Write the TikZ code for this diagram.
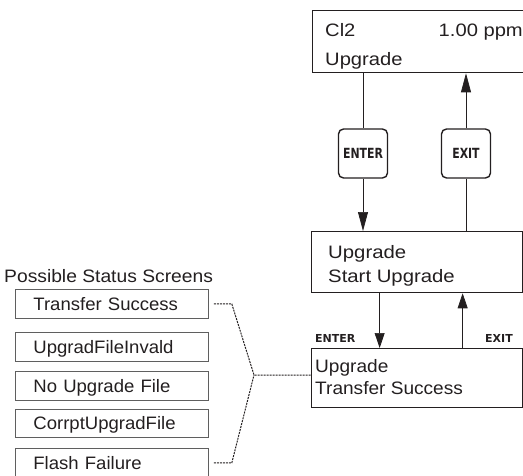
\documentclass[tikz,border=0pt]{standalone}
\usepackage{fontspec}
\usepackage{graphicx}
\setmainfont{Liberation Sans}
\newfontfamily\keyfont{DejaVu Sans}
\usetikzlibrary{arrows.meta,calc}
\definecolor{ink}{RGB}{35,31,32}
\definecolor{boxgray}{RGB}{95,95,95}
\newcommand{\hs}[2]{\scalebox{#1}[1]{#2}}
\tikzset{
  screen/.style={draw=ink, line width=1.3pt, inner sep=0pt, anchor=north west},
  lbl/.style={inner sep=0pt, text=ink, font=\fontsize{18}{20}\selectfont},
  keybox/.style={draw=ink, rounded corners=5pt, line width=1.4pt, minimum width=49pt,
    minimum height=49pt, inner sep=0pt, text=ink,
    font={\keyfont\bfseries\fontsize{14}{15}\selectfont}},
  keylbl/.style={inner sep=0pt, text=ink, font={\keyfont\bfseries\fontsize{11}{12}\selectfont}},
  sbox/.style={draw=boxgray, line width=0.8pt, minimum width=193pt, minimum height=29pt,
    anchor=north west, inner xsep=18pt, inner ysep=0pt, text width=157pt, align=left,
    text height=12.9pt, text depth=0pt, text=ink, font=\fontsize{18}{20}\selectfont},
  conn/.style={draw=ink, line width=0.7pt},
  tipA/.style={-{Triangle[length=19pt,width=10pt]}},
  tipB/.style={-{Triangle[length=15pt,width=10pt]}},
  dashline/.style={draw=ink, line width=1pt, dash pattern=on 2pt off 1pt}
}
\begin{document}
\begin{tikzpicture}[x=1pt,y=-1pt]
\useasboundingbox (0,0) rectangle (523,475);
% screens
\node[screen, minimum width=214pt, minimum height=62pt] (top) at (312,10) {};
\node[lbl, anchor=base west] (cl) at (325,36) {\hs{1.12}{Cl2}};
\node[lbl, anchor=base east] (ppm) at (523,36) {\hs{1.12}{1.00 ppm}};
\node[lbl, anchor=base west] (tup) at (325,65) {\hs{1.12}{Upgrade}};

\node[screen, minimum width=211pt, minimum height=61pt] (mid) at (311,231) {};
\node[lbl, anchor=base west] (mup) at (328,258.3) {\hs{1.13}{Upgrade}};
\node[lbl, anchor=base west] (mst) at (328,282.7) {\hs{1.13}{Start Upgrade}};

\node[screen, minimum width=211pt, minimum height=59pt] (bot) at (311,348) {};
\node[lbl, anchor=base west] (bup) at (315,372) {\hs{1.06}{Upgrade}};
\node[lbl, anchor=base west] (bts) at (315,394) {\hs{1.06}{Transfer Success}};

% keys
\node[keybox] (enter) at (363,153.5) {\hs{0.78}{ENTER}};
\node[keybox] (exitk) at (466,153.5) {\hs{0.78}{EXIT}};

\node[keylbl, anchor=base west] (enterlbl) at (315,342) {ENTER};
\node[keylbl, anchor=base east] (exitlbl) at (513,342) {EXIT};

% connectors
\draw[conn] (top.south -| enter.north) -- (enter.north);
\draw[conn, tipA] (enter.south) -- (enter.south |- mid.north);
\draw[conn, tipA] (exitk.north) -- (exitk.north |- top.south);
\draw[conn] (exitk.south) -- (exitk.south |- mid.north);
\draw[conn, tipB] ([xshift=-37.5pt]mid.south) -- ([xshift=-37.5pt]bot.north);
\draw[conn, tipB] ([xshift=45.5pt]bot.north) -- ([xshift=45.5pt]mid.south);

% status screens
\node[lbl, anchor=base west] (hdr) at (4,282.7) {\hs{1.07}{Possible Status Screens}};
\node[sbox] (s1) at (15,289) {\hs{1.03}{Transfer Success}};
\node[sbox] (s2) at (15,332) {\hs{1.03}{UpgradFileInvald}};
\node[sbox] (s3) at (15,371) {\hs{1.03}{No Upgrade File}};
\node[sbox, minimum height=28pt] (s4) at (15,409) {\hs{1.03}{CorrptUpgradFile}};
\node[sbox] (s5) at (15,448) {\hs{1.03}{Flash Failure}};

\coordinate (j) at (254,375);
\draw[dashline] ([xshift=5pt]s1.east) -- ++(18,0) -- (j) -- (j -| bot.west);
\draw[dashline] ([xshift=5pt]s5.east) -- ++(18,0) -- (j);
\end{tikzpicture}
\end{document}
